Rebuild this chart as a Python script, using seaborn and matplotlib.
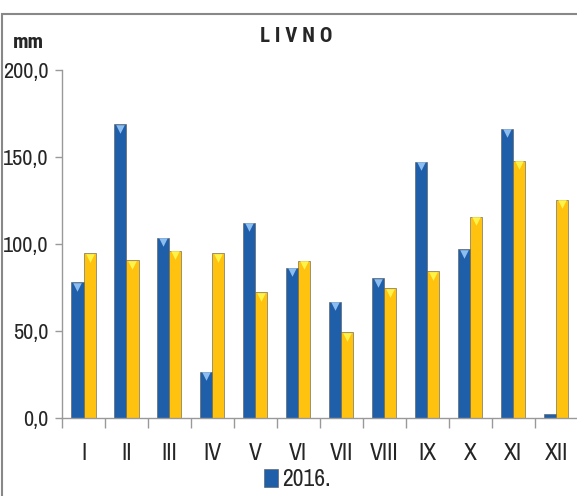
import numpy as np
import pandas as pd
import seaborn as sns
import matplotlib.pyplot as plt
from matplotlib import font_manager
from matplotlib.patches import Rectangle

# monthly precipitation, Livno (mm)
months = ["I", "II", "III", "IV", "V", "VI", "VII", "VIII", "IX", "X", "XI", "XII"]
year_2016 = [78.1, 168.9, 103.7, 26.8, 112.4, 86.5, 67.0, 80.4, 147.4, 97.2, 166.2, 2.3]
average = [94.8, 90.9, 96.1, 94.8, 72.4, 90.5, 49.4, 74.7, 84.6, 115.8, 147.8, 125.4]
series_names = ["2016.", "prosjek"]
y_ticks = [0, 50, 100, 150, 200]
y_tick_labels = ["0,0", "50,0", "100,0", "150,0", "200,0"]

blue = "#1f5ea8"
yellow = "#ffc20e"


def pick(cands, default="DejaVu Sans"):
    names = {f.name for f in font_manager.fontManager.ttflist}
    for c in cands:
        if c in names:
            return c
    return default


# narrow sans, like Arial Narrow in the original
family = pick(["Liberation Sans Narrow", "Arial Narrow", "Archivo Narrow", "Roboto Condensed"])
bold_family = pick(["Roboto Condensed", "Barlow Condensed", "Asap Condensed", family])

sns.set_style("white")
plt.rcParams["font.family"] = [family, "DejaVu Sans"]

df = pd.DataFrame({
    "month": months * 2,
    "value": year_2016 + average,
    "series": [series_names[0]] * 12 + [series_names[1]] * 12,
})

fig = plt.figure(figsize=(5.77, 4.96), dpi=100)
ax = fig.add_axes([0.1075, 0.1567, 0.8935, 0.702])

sns.barplot(
    data=df, x="month", y="value", hue="series", order=months,
    palette=[blue, yellow], width=0.56, gap=0, saturation=1,
    edgecolor="#555555", linewidth=0.4, ax=ax, legend=True,
)

# bevel triangles on top of bars
x = np.arange(len(months))
for off, vals, col in [(-0.14, year_2016, "#8cbdf0"), (0.14, average, "#fff34a")]:
    vals = np.array(vals)
    keep = vals > 5
    ax.scatter(x[keep] + off, vals[keep] - 2.6, marker="v", s=38,
               color=col, linewidths=0, zorder=5)

ax.set_xlim(-0.5, 11.5)
ax.set_ylim(0, 200)
ax.set_yticks(y_ticks)
ax.set_yticklabels(y_tick_labels)
ax.set_xlabel("")
ax.set_ylabel("")

ax.set_xticks(x)
ax.set_xticklabels(months)
ax.set_xticks(np.arange(-0.5, 12, 1), minor=True)
ax.tick_params(axis="x", which="major", length=0, pad=18, labelsize=17)
ax.tick_params(axis="x", which="minor", length=7, color="#999999", width=1)
ax.tick_params(axis="y", length=5, color="#999999", width=1, pad=5, labelsize=16)
ax.tick_params(left=True, bottom=True, which="both")

for s in ["top", "right"]:
    ax.spines[s].set_visible(False)
for s in ["left", "bottom"]:
    ax.spines[s].set_color("#999999")
    ax.spines[s].set_linewidth(1)

handles, labels = ax.get_legend_handles_labels()
ax.legend(handles[:1], labels[:1], loc="center", bbox_to_anchor=(0.515, 0.033),
          bbox_transform=fig.transFigure, frameon=False, fontsize=17,
          handlelength=0.6, handleheight=0.8, handletextpad=0.15)

fig.text(0.513, 0.926, "L I V N O", ha="center", va="center",
         fontsize=15, fontweight="bold", family=bold_family)
fig.text(0.022, 0.914, "mm", ha="left", va="center", fontsize=15,
         fontweight="bold", family=bold_family)

fig.patches.append(Rectangle((0.004, -0.02), 1.1, 0.992, transform=fig.transFigure,
                             fill=False, edgecolor="#888888", linewidth=1.5))

fig.savefig("out.png", dpi=100)
